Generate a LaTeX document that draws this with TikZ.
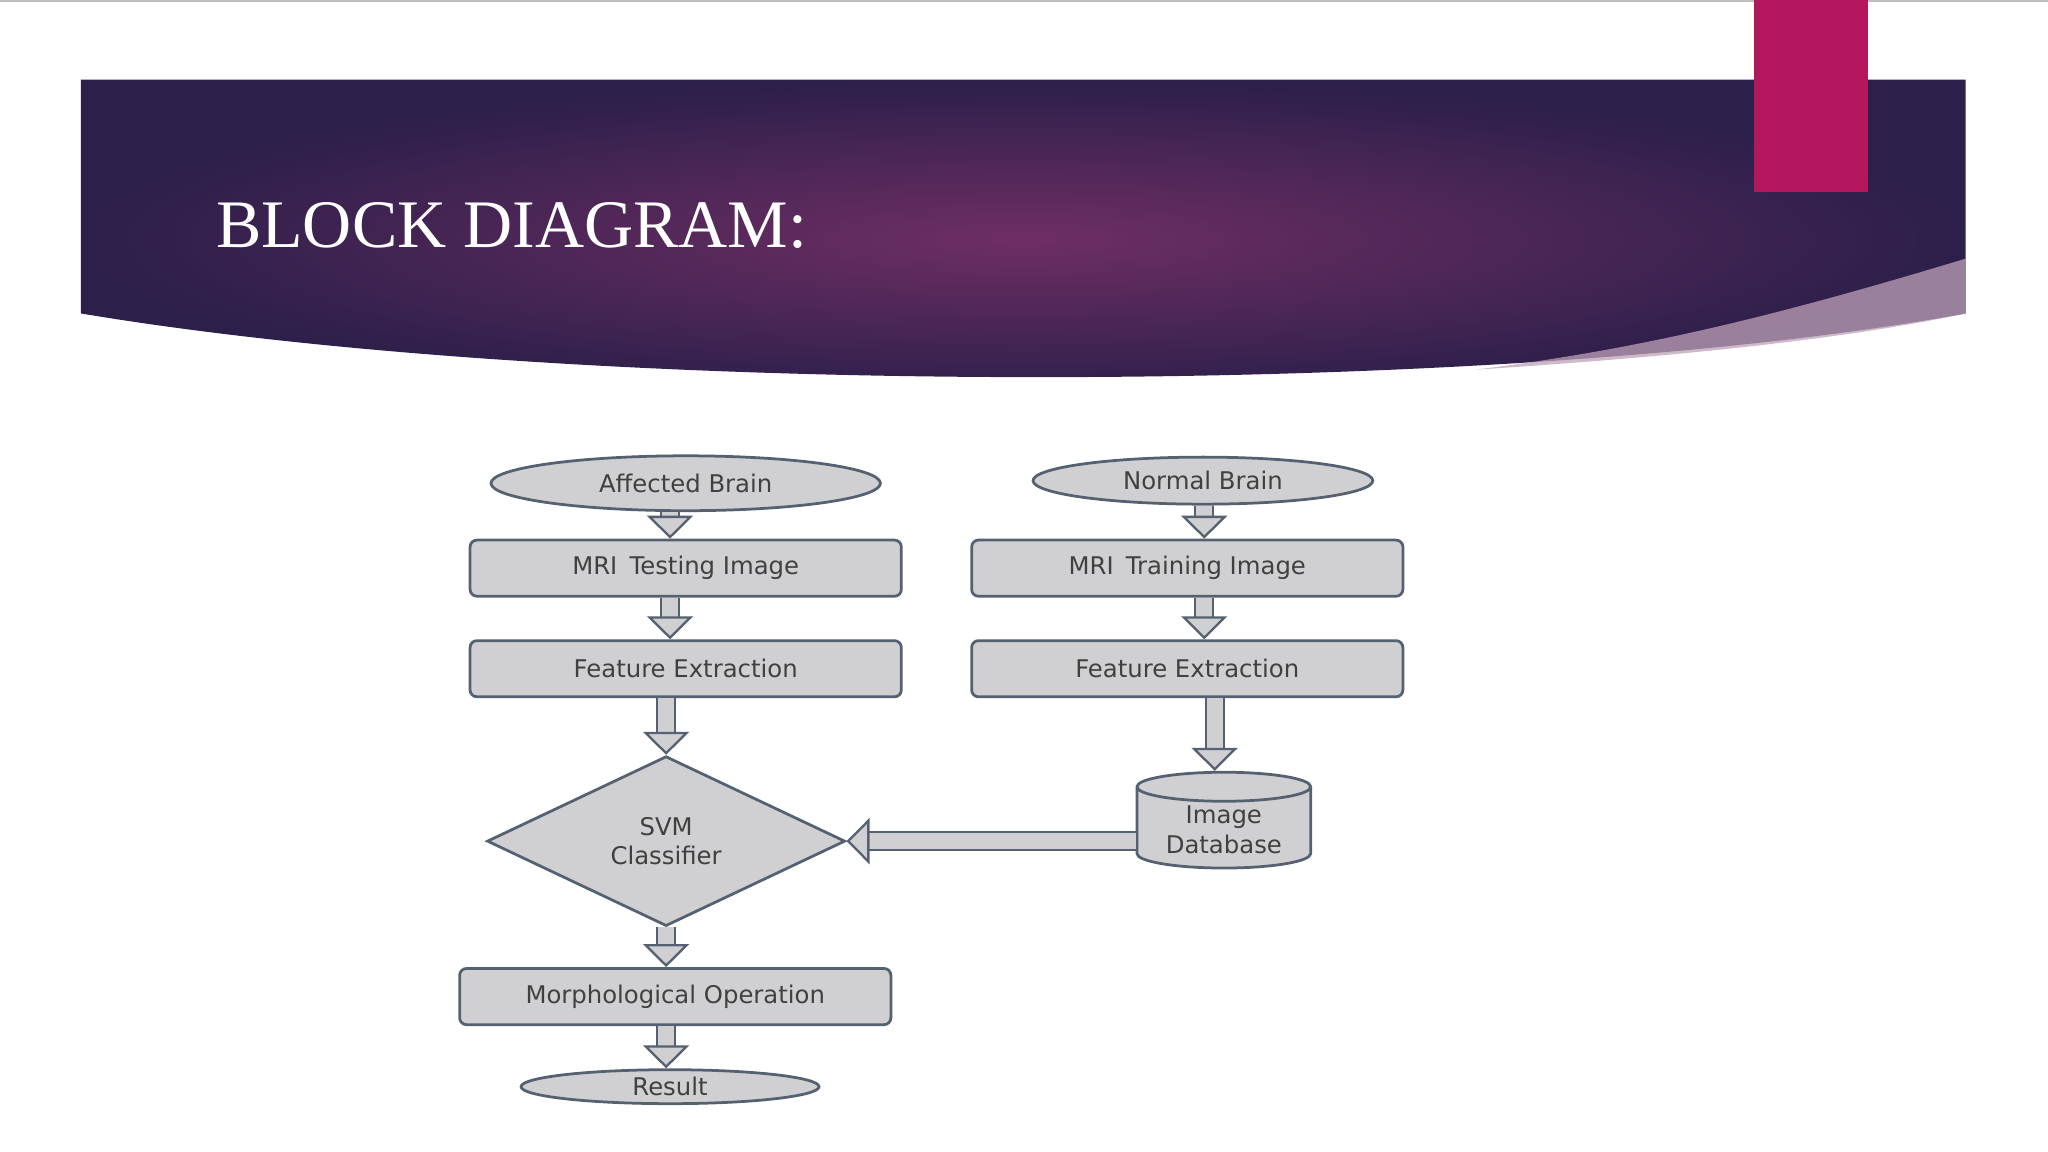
\documentclass[tikz,border=0pt]{standalone}
\usepackage{fontspec}
\setmainfont{Liberation Serif}
\newfontfamily\diagfont{DejaVu Sans}
\usetikzlibrary{shapes.geometric,arrows.meta}
\definecolor{edgeC}{HTML}{556070}
\definecolor{boxC}{HTML}{D0D0D2}
\definecolor{bandDark}{HTML}{2C1F4A}
\definecolor{bandMid}{HTML}{6E2E64}
\definecolor{tabC}{HTML}{B5175F}
\tikzset{
 dtxt/.style={font=\diagfont\fontsize{5.3}{6.5}\selectfont,text=black!75},
 box/.style={draw=edgeC,fill=boxC,line width=0.6pt,rounded corners=1.5pt,minimum width=3.3cm,minimum height=0.43cm,dtxt},
 ell/.style={ellipse,draw=edgeC,fill=boxC,line width=0.6pt,inner sep=0pt,dtxt},
 blk/.style={draw=edgeC,line width=0.5pt,double=boxC,double distance=3.4pt,-{Triangle[length=5pt,width=10pt,fill=boxC]}}
}
\begin{document}
\begin{tikzpicture}[x=0.01cm,y=-0.01cm]
\useasboundingbox (0,0) rectangle (1568,882);
\fill[white] (0,0) rectangle (1568,882);
\draw[gray!50,line width=0.5pt] (0,0.5) -- (1568,0.5);
% banner
\shade[inner color=bandMid,middle color=bandMid!70!bandDark,outer color=bandDark] (62,61) -- (1505,61) -- (1505,240) .. controls (1150,305) and (450,305) .. (62,240) -- cycle;
\fill[white!55!bandMid,opacity=0.75] (1505,198) .. controls (1350,245) and (1250,268) .. (1130,283) .. controls (1300,272) and (1420,258) .. (1505,240) -- cycle;
\fill[tabC] (1343,0) rectangle (1430,147);
\node[anchor=west,text=white,font=\fontsize{14.8}{18}\selectfont] (title) at (153,173) {BLOCK DIAGRAM:};
% diagram
\node[ell,minimum width=2.98cm,minimum height=0.42cm] (ab) at (525,370) {Affected Brain};
\node[ell,minimum width=2.6cm,minimum height=0.36cm] (nb) at (921,368) {Normal Brain};
\node[box] (mt) at (525,435) {MRI\enspace Testing Image};
\node[box] (mr) at (909,435) {MRI\enspace Training Image};
\node[box] (fl) at (525,512) {Feature Extraction};
\node[box] (fr) at (909,512) {Feature Extraction};
\node[diamond,draw=edgeC,fill=boxC,line width=0.6pt,minimum width=2.74cm,minimum height=1.3cm,inner sep=0pt,align=center,dtxt] (svm) at (510,644) {SVM\\Classifier};
\node[cylinder,shape border rotate=90,aspect=0.25,draw=edgeC,fill=boxC,line width=0.6pt,minimum width=1.33cm,minimum height=0.73cm,inner sep=0pt,align=center,dtxt] (db) at (937,634) {\\[-2pt]Image\\Database};
\node[box] (mo) at (517,763) {Morphological Operation};
\node[ell,minimum width=2.28cm,minimum height=0.26cm] (res) at (513,832) {Result};
\draw[blk] (ab.south -| 513,0) -- (mt.north -| 513,0);
\draw[blk] (mt.south -| 513,0) -- (fl.north -| 513,0);
\draw[blk] (fl.south -| 510,0) -- (svm.north);
\draw[blk] (svm.south) -- (mo.north -| 510,0);
\draw[blk] (mo.south -| 510,0) -- (res.north -| 510,0);
\draw[blk] (nb.south -| 922,0) -- (mr.north -| 922,0);
\draw[blk] (mr.south -| 922,0) -- (fr.north -| 922,0);
\draw[blk] (fr.south -| 930,0) -- (db.top -| 930,0);
\draw[blk] (db.west |- 0,644) -- (svm.east);
\end{tikzpicture}
\end{document}
